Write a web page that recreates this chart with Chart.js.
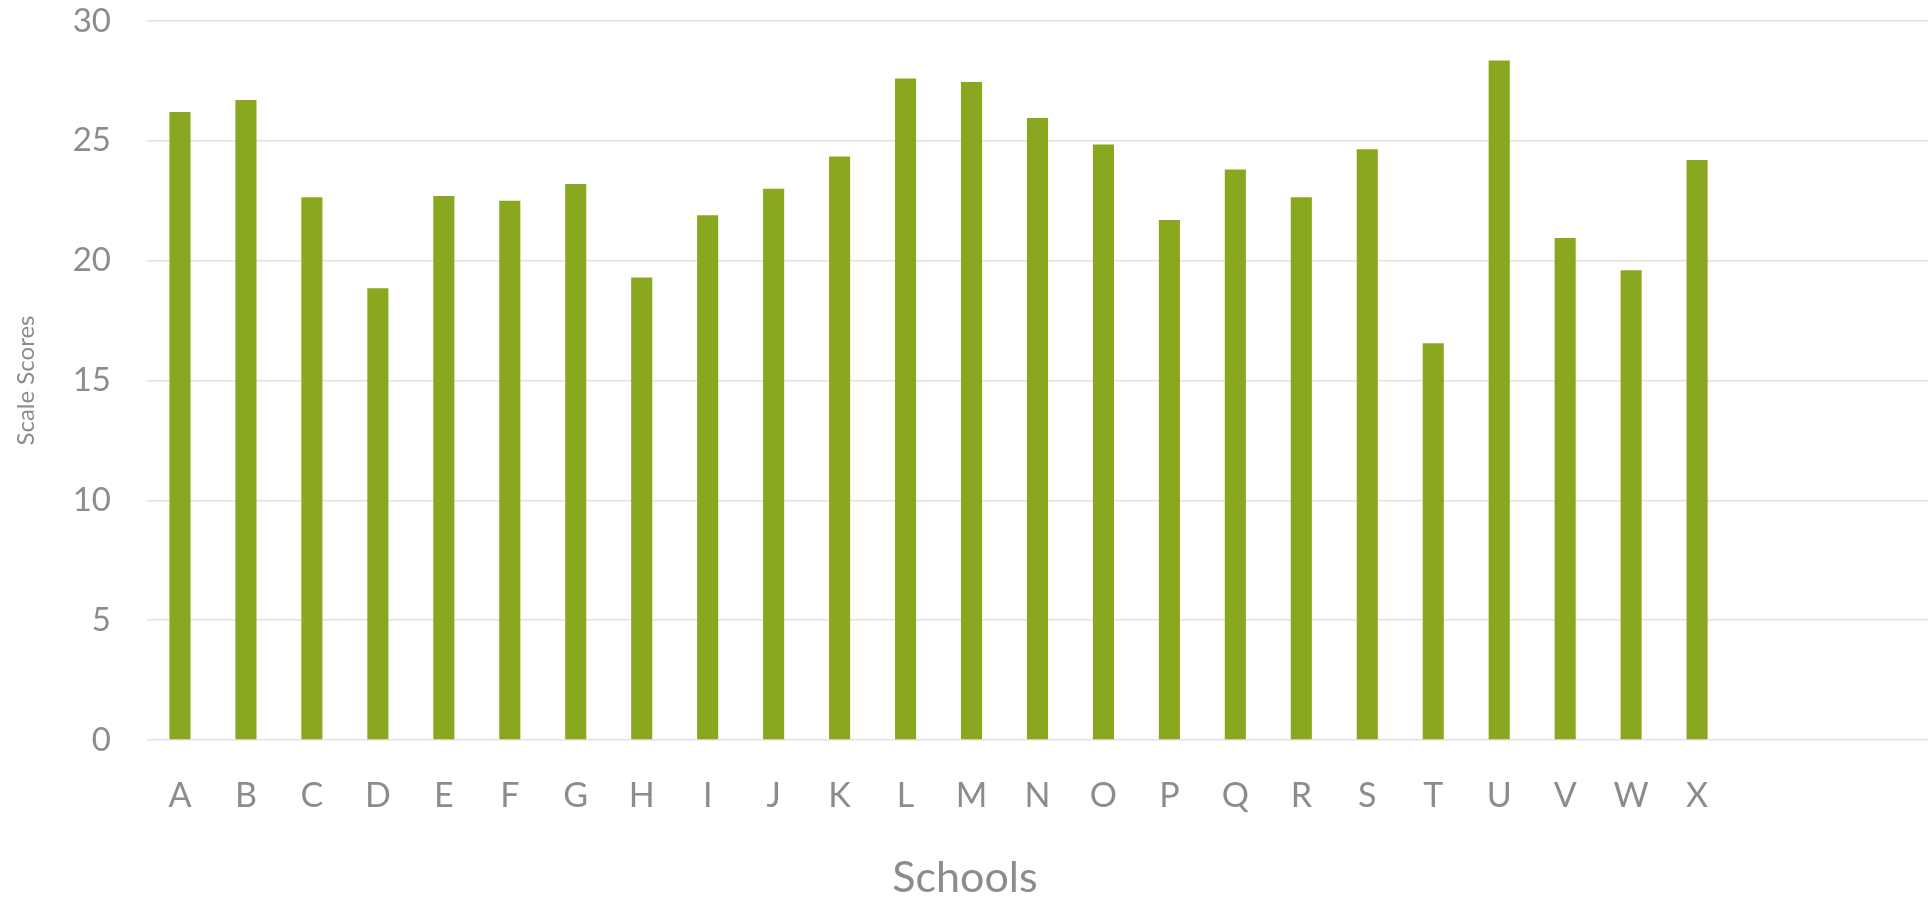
<!DOCTYPE html>
<html>
<head>
<meta charset="utf-8">
<title>Scale Scores by School</title>
<script src="https://cdn.jsdelivr.net/npm/chart.js@4.4.1/dist/chart.umd.min.js"></script>
<style>
  html, body { margin: 0; padding: 0; background: #fff; }
  #wrap { width: 1931px; height: 902px; position: relative; }
</style>
</head>
<body>
<div id="wrap"><canvas id="scoreChart"></canvas></div>
<script>
// Schools on the x axis (the chart leaves three empty slots after X)
const schools = ['A', 'B', 'C', 'D', 'E', 'F', 'G', 'H', 'I', 'J', 'K', 'L',
  'M', 'N', 'O', 'P', 'Q', 'R', 'S', 'T', 'U', 'V', 'W', 'X'];
const emptySlots = ['', '', ''];

// Scale scores
const scores = [26.2, 26.7, 22.65, 18.85, 22.7, 22.5, 23.2, 19.3, 21.9, 23.0, 24.35, 27.6,
  27.45, 25.95, 24.85, 21.7, 23.8, 22.65, 24.65, 16.55, 28.35, 20.95, 19.6, 24.2];

// y axis ticks
const yTicks = [0, 5, 10, 15, 20, 25, 30];

const textGray = '#8c8c8c';
const barGreen = '#8aa81f';

const ctx = document.getElementById('scoreChart').getContext('2d');

new Chart(ctx, {
  type: 'bar',
  data: {
    labels: schools.concat(emptySlots),
    datasets: [{
      label: 'Scale Scores',
      data: scores,
      backgroundColor: barGreen,
      borderWidth: 0,
      categoryPercentage: 1,
      barPercentage: 0.32
    }]
  },
  options: {
    responsive: true,
    maintainAspectRatio: false,
    animation: false,
    layout: { padding: { top: 0, left: 0, right: 1, bottom: 0 } },
    plugins: {
      legend: { display: false },
      tooltip: { enabled: false },
      title: {
        display: true,
        text: 'Schools',
        position: 'bottom',
        color: textGray,
        font: { family: 'Lato', size: 43, weight: 'normal', lineHeight: 1 },
        padding: { top: 0, bottom: 2 }
      }
    },
    scales: {
      x: {
        grid: { display: false, drawTicks: false },
        border: { display: false },
        ticks: {
          color: textGray,
          font: { family: 'Lato', size: 34 },
          padding: 36,
          autoSkip: false,
          maxRotation: 0
        },
        afterFit: (scale) => { scale.height = 117; }
      },
      y: {
        min: yTicks[0],
        max: yTicks[yTicks.length - 1],
        grid: { color: '#e2e2e2', lineWidth: 1.5, drawTicks: false },
        border: { display: false },
        ticks: {
          stepSize: yTicks[1] - yTicks[0],
          color: textGray,
          font: { family: 'Lato', size: 33 },
          padding: 36
        },
        title: {
          display: true,
          text: 'Scale Scores',
          color: textGray,
          font: { family: 'Lato', size: 24 },
          padding: { top: 12, bottom: 0 }
        },
        afterFit: (scale) => {
          scale.width = 147;
          // keep the plot top close to the canvas edge, as in the original
          scale.paddingTop = 21;
        }
      }
    }
  }
});
</script>
</body>
</html>
